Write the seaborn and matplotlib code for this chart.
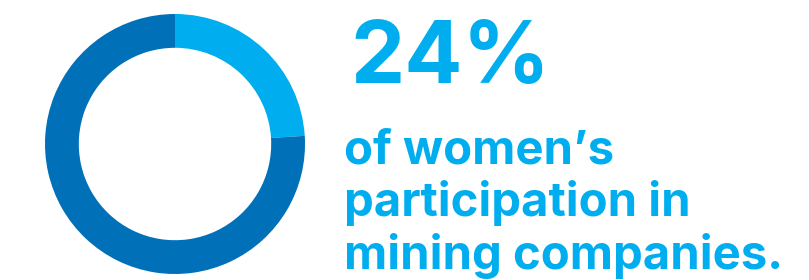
import matplotlib
matplotlib.use("Agg")
import matplotlib.pyplot as plt
import seaborn as sns

labels = ["Women", "Men"]
shares = [24, 76]
colors = ["#00AEEF", "#0070B8"]
big_number = "24%"
caption = ["of women\u2019s", "participation in", "mining companies."]

sns.set_theme(style="white")
plt.rcParams["font.family"] = ["Inter", "DejaVu Sans"]

W, H = 809, 280
fig = plt.figure(figsize=(W / 100, H / 100), dpi=100)

# donut: centre (175, 144) px from top-left, outer radius 130 px
cx, cy, r = 175, 144, 130
ax = fig.add_axes([(cx - r) / W, (H - cy - r) / H, 2 * r / W, 2 * r / H])
ax.pie(shares, colors=colors, startangle=90, counterclock=False,
       radius=1, wedgeprops=dict(width=0.26, linewidth=0))
ax.set_xlim(-1, 1)
ax.set_ylim(-1, 1)
ax.set_aspect("equal")
ax.axis("off")

fig.text(350 / W, (H - 83) / H, big_number, color=colors[0],
         fontsize=62, fontweight="bold", va="baseline", ha="left")

baselines = [163, 216, 269]
for line, b in zip(caption, baselines):
    fig.text(344 / W, (H - b) / H, line, color=colors[0],
             fontsize=34, fontweight="bold", va="baseline", ha="left")

fig.savefig("out.png", dpi=100)
